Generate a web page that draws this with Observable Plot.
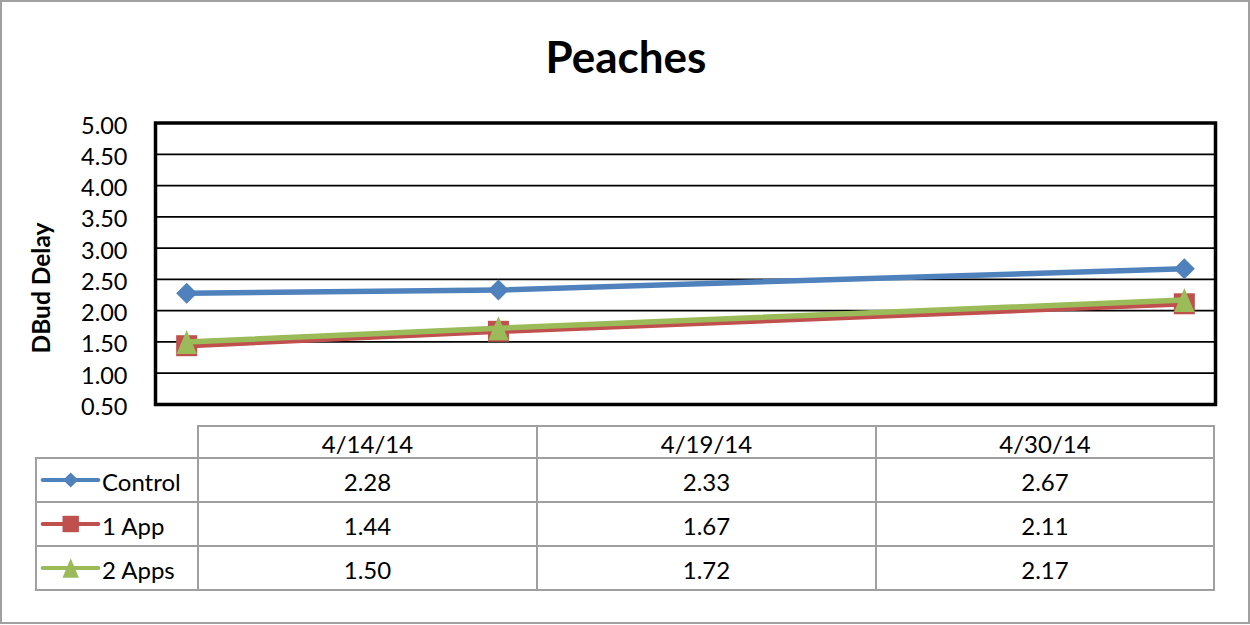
<!DOCTYPE html>
<html>
<head>
<meta charset="utf-8">
<script src="https://cdn.jsdelivr.net/npm/d3@7"></script>
<script src="https://cdn.jsdelivr.net/npm/@observablehq/plot@0.6"></script>
<style>
  body { margin: 0; background: #fff; }
  #wrap { position: relative; width: 1250px; height: 625px; font-family: Lato, "Open Sans", sans-serif; color: #000; overflow: hidden; }
  #outer { position: absolute; left: 0; top: 0; width: 1250px; height: 624px; box-sizing: border-box; border: 2.5px solid #a0a0a0; }
  #title { position: absolute; left: 0; width: 1252px; top: 34px; text-align: center; font-size: 44px; font-weight: 700; line-height: 1; }
  #ylabel { position: absolute; left: 41px; top: 288px; transform: translate(-50%, -50%) rotate(-90deg); font-size: 24.5px; font-weight: 700; white-space: nowrap; line-height: 1; }
  #chart { position: absolute; left: 0; top: 100px; }
  .cell { position: absolute; box-sizing: border-box; border: 2px solid #a0a0a0; display: flex; align-items: center; justify-content: center; font-size: 24px; line-height: 1.2; white-space: nowrap; }
  .cell span { position: relative; top: 2px; }
  .cell.leg { justify-content: flex-start; }
</style>
</head>
<body>
<div id="wrap">
  <div id="outer"></div>
  <div id="title"></div>
  <div id="ylabel"></div>
  <div id="chart"></div>
  <div id="table"></div>
</div>
<script>
// ---- data ----
const chartTitle = "Peaches";
const yLabel = "DBud Delay";
const dates = ["2014-04-14", "2014-04-19", "2014-04-30"];
const dateLabels = ["4/14/14", "4/19/14", "4/30/14"];
const seriesNames = ["Control", "1 App", "2 Apps"];
const control = [2.28, 2.33, 2.67];
const oneApp = [1.44, 1.67, 2.11];
const twoApps = [1.50, 1.72, 2.17];
const yTicks = [0.5, 1.0, 1.5, 2.0, 2.5, 3.0, 3.5, 4.0, 4.5, 5.0];

// ---- styles ----
const colors = ["#4F81BD", "#C0504D", "#9BBB59"];
const seriesValues = [control, oneApp, twoApps];

const diamondSym = { draw(ctx, size) { const s = Math.sqrt(size / Math.PI); ctx.moveTo(0, -s); ctx.lineTo(s, 0); ctx.lineTo(0, s); ctx.lineTo(-s, 0); ctx.closePath(); } };
const squareSym = { draw(ctx, size) { const s = Math.sqrt(size / Math.PI); ctx.rect(-s, -s, 2 * s, 2 * s); } };
const triangleSym = { draw(ctx, size) { const s = Math.sqrt(size / Math.PI); const h = 2.35 * s; ctx.moveTo(0, -h / 2); ctx.lineTo(s, h / 2); ctx.lineTo(-s, h / 2); ctx.closePath(); } };
const symbols = [diamondSym, squareSym, triangleSym];
const chartR = [10.5, 10.5, 10.2];
const legendR = [7.6, 8.2, 8.2];

document.getElementById("title").textContent = chartTitle;
document.getElementById("ylabel").textContent = yLabel;

const data = seriesNames.flatMap((name, s) =>
  dates.map((d, i) => ({ series: name, date: new Date(d), value: seriesValues[s][i] })));

const dayMs = 864e5;
const xDomain = [new Date(+new Date(dates[0]) - dayMs / 2), new Date(+new Date(dates[dates.length - 1]) + dayMs / 2)];

const marks = [
  Plot.ruleY(yTicks, { stroke: "#000", strokeWidth: 1.75 }),
  Plot.frame({ stroke: "#000", strokeWidth: 3.5 }),
  Plot.axisY({ ticks: yTicks, tickFormat: d3.format(".2f"), tickSize: 0, tickPadding: 28, fontSize: 23.5, fill: "#000", label: null, dy: 3 })
];
seriesNames.forEach((name, s) => {
  const sub = data.filter(d => d.series === name);
  marks.push(Plot.line(sub, { x: "date", y: "value", stroke: colors[s], strokeWidth: 5.5, strokeLinecap: "round", strokeLinejoin: "round" }));
  marks.push(Plot.dot(sub, { x: "date", y: "value", symbol: symbols[s], r: chartR[s], fill: colors[s], stroke: "none" }));
});

const chart = Plot.plot({
  width: 1250,
  height: 330,
  marginLeft: 155,
  marginRight: 35,
  marginTop: 22.5,
  marginBottom: 26,
  style: { fontFamily: "Lato, sans-serif", fontSize: "23.5px", background: "transparent", color: "#000" },
  x: { type: "utc", domain: xDomain, axis: null },
  y: { domain: [0.5, 5], axis: null },
  marks
});
document.getElementById("chart").appendChild(chart);

// ---- data table ----
const colEdges = [35, 197, 536, 875, 1213];
const rowEdges = [425, 457, 501, 545, 589];
const table = document.getElementById("table");
function cell(r, c) {
  const div = document.createElement("div");
  div.className = "cell";
  div.style.left = colEdges[c] + "px";
  div.style.top = rowEdges[r] + "px";
  div.style.width = (colEdges[c + 1] - colEdges[c] + 2) + "px";
  div.style.height = (rowEdges[r + 1] - rowEdges[r] + 2) + "px";
  table.appendChild(div);
  return div;
}
dateLabels.forEach((lab, i) => {
  const d = cell(0, i + 1);
  d.innerHTML = "<span></span>";
  d.firstChild.textContent = lab;
});
seriesNames.forEach((name, s) => {
  const lc = cell(s + 1, 0);
  lc.classList.add("leg");
  const svg = d3.create("svg").attr("width", 65).attr("height", 24).style("flex", "none");
  svg.append("line").attr("x1", 5.7).attr("x2", 61.3).attr("y1", 12).attr("y2", 12)
    .attr("stroke", colors[s]).attr("stroke-width", 4).attr("stroke-linecap", "round");
  svg.append("path").attr("transform", "translate(33.7,12)")
    .attr("d", d3.symbol(symbols[s], Math.PI * legendR[s] * legendR[s])()).attr("fill", colors[s]);
  lc.appendChild(svg.node());
  const sp = document.createElement("span");
  sp.textContent = name;
  lc.appendChild(sp);
  seriesValues[s].forEach((v, i) => {
    const d = cell(s + 1, i + 1);
    const t = document.createElement("span");
    t.textContent = v.toFixed(2);
    d.appendChild(t);
  });
});
</script>
</body>
</html>
